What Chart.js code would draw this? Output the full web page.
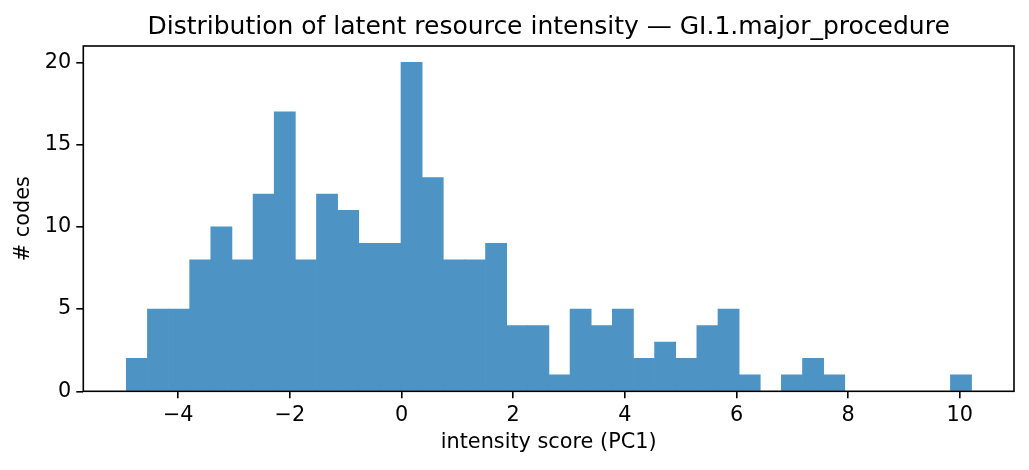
<!DOCTYPE html>
<html>
<head>
<meta charset="utf-8">
<script src="https://cdn.jsdelivr.net/npm/chart.js@4/dist/chart.umd.min.js"></script>
<style>
  html, body { margin: 0; padding: 0; background: #fff; }
  canvas { display: block; }
</style>
</head>
<body>
<canvas id="c" width="1029" height="470"></canvas>
<script>
// ---- data ----
const titleText = "Distribution of latent resource intensity \u2014 GI.1.major_procedure";
const xLabel = "intensity score (PC1)";
const yLabel = "# codes";
const firstBinEdge = -4.93;
const binWidth = 0.3785;
const counts = [2, 5, 5, 8, 10, 8, 12, 17, 8, 12,
                11, 9, 9, 20, 13, 8, 8, 9, 4, 4,
                1, 5, 4, 5, 2, 3, 2, 4, 5, 1,
                0, 1, 2, 1, 0, 0, 0, 0, 0, 1];
const xTicks = [-4, -2, 0, 2, 4, 6, 8, 10];
const yTicks = [0, 5, 10, 15, 20];
const xRange = [-5.70, 10.97];
const yRange = [0, 21];

const points = counts.map((c, i) => ({ x: firstBinEdge + binWidth * (i + 0.5), y: c }));

const FONT = "'DejaVu Sans', sans-serif";
const fmt = v => (v < 0 ? "\u2212" + Math.abs(v) : String(v));

const frame = {
  id: 'frame',
  afterDatasetsDraw(chart) {
    const a = chart.chartArea, ctx = chart.ctx;
    ctx.save();
    ctx.strokeStyle = '#000';
    ctx.lineWidth = 1.6;
    ctx.strokeRect(a.left, a.top, a.right - a.left, a.bottom - a.top);
    ctx.restore();
  }
};

new Chart(document.getElementById('c'), {
  type: 'bar',
  data: {
    datasets: [{
      data: points,
      backgroundColor: 'rgb(77,147,195)',
      borderWidth: 0,
      barPercentage: 1.0,
      categoryPercentage: 1.0
    }]
  },
  options: {
    responsive: false,
    animation: false,
    layout: { padding: { left: 0, right: 15, top: 0, bottom: 0 } },
    plugins: {
      legend: { display: false },
      tooltip: { enabled: false },
      title: {
        display: true,
        fullSize: false,
        text: titleText,
        color: '#000',
        font: { family: FONT, size: 25, weight: 'normal' },
        padding: { top: 12, bottom: 4 }
      }
    },
    scales: {
      x: {
        type: 'linear',
        min: xRange[0], max: xRange[1],
        offset: false,
        afterBuildTicks: s => { s.ticks = xTicks.map(v => ({ value: v })); },
        afterFit: s => { s.height = 78.7; },
        ticks: { color: '#000', font: { family: FONT, size: 20.8 }, padding: 5, maxRotation: 0, callback: fmt },
        grid: { display: true, offset: false, drawOnChartArea: false, drawTicks: true, tickLength: 7, color: '#000', lineWidth: 1.6 },
        border: { display: false },
        title: { display: true, text: xLabel, color: '#000', font: { family: FONT, size: 20.8 }, padding: { top: 0, bottom: 14.5 } }
      },
      y: {
        min: yRange[0], max: yRange[1],
        afterBuildTicks: s => { s.ticks = yTicks.map(v => ({ value: v })); },
        afterFit: s => { s.width = 83.3; },
        ticks: { color: '#000', font: { family: FONT, size: 20.8 }, padding: 5, callback: fmt },
        grid: { display: true, offset: false, drawOnChartArea: false, drawTicks: true, tickLength: 7, color: '#000', lineWidth: 1.6 },
        border: { display: false },
        title: { display: true, text: yLabel, color: '#000', font: { family: FONT, size: 20.8 }, padding: { top: 11.5, bottom: 0 } }
      }
    }
  },
  plugins: [frame]
});
</script>
</body>
</html>
